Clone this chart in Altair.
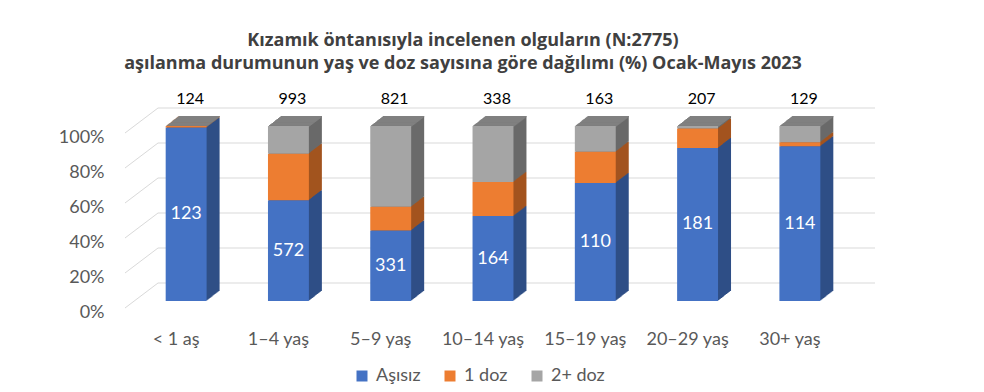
import altair as alt
import pandas as pd

categories = ["< 1 aş", "1–4 yaş", "5–9 yaş", "10–14 yaş", "15–19 yaş", "20–29 yaş", "30+ yaş"]
totals = [124, 993, 821, 338, 163, 207, 129]
asisiz = [123, 572, 331, 164, 110, 181, 114]
doz1 = [1, 264, 111, 66, 29, 23, 3]
doz2 = [0, 157, 379, 108, 24, 3, 12]
series = ["Aşısız", "1 doz", "2+ doz"]
colors = ["#4472c4", "#ed7d31", "#a5a5a5"]
dark_colors = ["#2f4f86", "#a3541f", "#6a6a6a"]
top_color = "#808080"
ticks = [0, 0.2, 0.4, 0.6, 0.8, 1.0]

rows = []
for i, c in enumerate(categories):
    for j, (s, vals) in enumerate(zip(series, [asisiz, doz1, doz2])):
        rows.append({"cat": c, "series": s, "idx": j, "count": vals[i], "dark": dark_colors[j]})
df = pd.DataFrame(rows)

lab = pd.DataFrame({"cat": categories, "total": totals, "asisiz": asisiz,
                    "mid": [a / t / 2 for a, t in zip(asisiz, totals)],
                    "one": [1.0] * len(categories)})
grid = pd.DataFrame({"v": ticks})

xsc = alt.Scale(domain=categories, paddingInner=0.6, paddingOuter=0.3)
ysc = alt.Scale(domain=[0, 1])
FONT = "Lato"

yaxis = alt.Axis(title=None, values=ticks, format="%", domain=False, ticks=False,
                 grid=False, labelFontSize=18, labelColor="#595959",
                 labelFont=FONT, labelPadding=31, labelOffset=11)

xenc = alt.X("cat:N", scale=xsc, sort=categories,
             axis=alt.Axis(title=None, domain=False, ticks=False, labelAngle=0,
                           labelFontSize=18, labelColor="#595959", labelFont=FONT,
                           labelPadding=29, labelOffset=-10))

gridlines = alt.Chart(grid).mark_rule(color="#d9d9d9", strokeWidth=1, yOffset=-18).encode(
    y=alt.Y("v:Q", scale=ysc, axis=yaxis),
    x=alt.value(23), x2=alt.value(740))
walllines = alt.Chart(grid).mark_rule(color="#d9d9d9", strokeWidth=1, yOffset=-18, y2Offset=7).encode(
    y=alt.Y("v:Q", scale=ysc, axis=yaxis), y2=alt.Y2("v:Q"),
    x=alt.value(23), x2=alt.value(-10))

layers = [gridlines, walllines]
N = 13
D = 10 / 13
for k in range(N, 0, -1):
    layers.append(
        alt.Chart(df).mark_bar(xOffset=k, yOffset=-k * D).encode(
            x=xenc,
            y=alt.Y("count:Q", stack="normalize", scale=ysc, axis=yaxis),
            fill=alt.Fill("dark:N", scale=None),
            order=alt.Order("idx:Q"),
        )
    )
# top face
for k in range(N, 0, -1):
    layers.append(
        alt.Chart(lab).mark_bar(fill=top_color, xOffset=k, yOffset=-k * D,
                                y2Offset=-(k - 1) * D + 0.6).encode(
            x=xenc,
            y=alt.Y("one:Q", scale=ysc, axis=yaxis),
            y2=alt.Y2("one:Q"),
        )
    )

front = alt.Chart(df).mark_bar().encode(
    x=xenc,
    y=alt.Y("count:Q", stack="normalize", scale=ysc, axis=yaxis),
    color=alt.Color("series:N", scale=alt.Scale(domain=series, range=colors),
                    legend=alt.Legend(title=None, orient="none", direction="horizontal",
                                      legendX=218, legendY=241, symbolType="square",
                                      symbolSize=121, labelFontSize=18, labelFont=FONT,
                                      labelColor="#595959", columnPadding=20,
                                      labelOffset=5, symbolStrokeWidth=0)),
    order=alt.Order("idx:Q"),
)

total_text = alt.Chart(lab).mark_text(fontSize=16, font=FONT, color="#000000",
                                      dx=4, dy=-27, baseline="middle").encode(
    x=xenc, y=alt.Y("one:Q", scale=ysc, axis=yaxis), text="total:Q")

inner_text = alt.Chart(lab).mark_text(fontSize=18, font=FONT, color="#ffffff",
                                      baseline="middle").encode(
    x=xenc, y=alt.Y("mid:Q", scale=ysc, axis=yaxis), text="asisiz:Q")

layers += [front, total_text, inner_text]

chart = alt.layer(*layers).properties(
    width=716, height=175,
    autosize=alt.AutoSizeParams(type="none"),
    padding={"left": 127, "top": 118, "right": 100, "bottom": 88},
    title=alt.TitleParams(
        text=["Kızamık öntanısıyla incelenen olguların (N:2775)",
              "aşılanma durumunun yaş ve doz sayısına göre dağılımı (%) Ocak-Mayıs  2023"],
        fontSize=18, fontWeight="bold", color="#404040", font="Open Sans",
        anchor="middle", dx=-30, offset=18, lineHeight=23),
).configure_view(stroke=None)

chart.save("out.html", embed_options={"renderer": "svg", "actions": False})
